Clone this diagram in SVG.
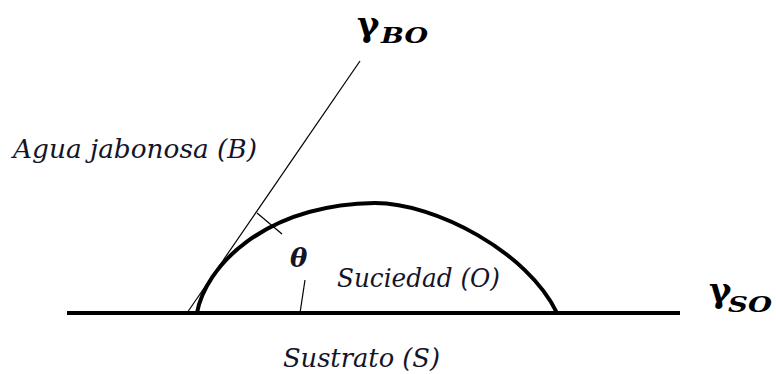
<svg xmlns="http://www.w3.org/2000/svg" width="776" height="374" viewBox="0 0 776 374">
  <style>
    .lbl { font-family: "DejaVu Serif", "Liberation Serif", serif; font-style: italic; font-size: 26px; fill: #141428; }
    .gam { font-family: "DejaVu Serif", "Liberation Serif", serif; font-weight: bold; font-size: 34px; fill: #000; }
    .sub { font-family: "DejaVu Serif", "Liberation Serif", serif; font-weight: bold; font-style: italic; font-size: 23px; fill: #000; }
    .thick { fill: none; stroke: #000; stroke-width: 4; }
    .thin { fill: none; stroke: #000; stroke-width: 1.2; }
  </style>
  <rect width="776" height="374" fill="#fff"/>
  <g id="substrate">
    <line class="thick" x1="67" y1="313" x2="680" y2="313"/>
  </g>
  <g id="drop">
    <path class="thick" stroke-width="3.6" d="M197,313 C205,268 262,205 375,203 C435,203 528,252 557,313"/>
  </g>
  <g id="connectors">
    <line class="thin" x1="187" y1="313" x2="360" y2="61"/>
    <line class="thin" x1="257" y1="213" x2="282" y2="234"/>
    <line class="thin" x1="305" y1="280" x2="300" y2="313"/>
  </g>
  <g id="label-water">
    <text class="lbl" x="13" y="158" textLength="244" lengthAdjust="spacingAndGlyphs">Agua jabonosa (B)</text>
  </g>
  <g id="label-dirt">
    <text class="lbl" x="337" y="287" textLength="163" lengthAdjust="spacingAndGlyphs">Suciedad (O)</text>
  </g>
  <g id="label-substrate">
    <text class="lbl" x="283" y="367" textLength="157" lengthAdjust="spacingAndGlyphs">Sustrato (S)</text>
  </g>
  <g id="label-theta">
    <text class="lbl" x="290" y="267" font-size="30" font-weight="bold" fill="#000">θ</text>
  </g>
  <g id="label-gamma-bo">
    <text class="gam" x="357" y="36">γ</text>
    <text class="sub" x="381" y="43" textLength="47" lengthAdjust="spacingAndGlyphs">BO</text>
  </g>
  <g id="label-gamma-so">
    <text class="gam" x="709" y="302">γ</text>
    <text class="sub" x="728" y="312" textLength="44" lengthAdjust="spacingAndGlyphs">SO</text>
  </g>
</svg>
